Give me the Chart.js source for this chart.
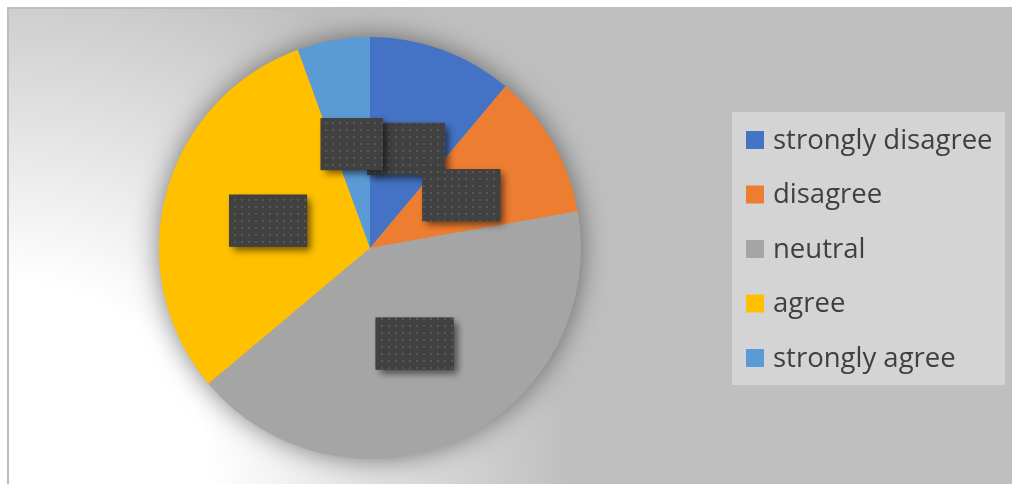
<!DOCTYPE html>
<html>
<head>
<meta charset="utf-8">
<script src="https://cdn.jsdelivr.net/npm/chart.js@4/dist/chart.umd.min.js"></script>
<style>
  html, body { margin: 0; padding: 0; background: #ffffff; }
  #wrap { width: 1012px; height: 484px; }
</style>
</head>
<body>
<div id="wrap"><canvas id="myChart" width="1012" height="484"></canvas></div>
<script>
let labels = ['strongly disagree', 'disagree', 'neutral', 'agree', 'strongly agree'];
let counts = [4, 4, 15, 11, 2];
let colors = ['#4472C4', '#ED7D31', '#A5A5A5', '#FFC000', '#5B9BD5'];

// background: grey frame with a white glow from the bottom-left corner
const backgroundPlugin = {
    id: 'background',
    beforeDraw(chart) {
        const ctx = chart.ctx;
        const w = chart.width, h = chart.height;
        ctx.save();
        const g = ctx.createRadialGradient(8, h, 0, 8, h, 560);
        g.addColorStop(0, '#ffffff');
        g.addColorStop(0.36, '#ffffff');
        g.addColorStop(1, '#bfbfbf');
        ctx.fillStyle = g;
        ctx.fillRect(9, 9, w - 9, h - 9);
        ctx.strokeStyle = '#bdbdbd';
        ctx.lineWidth = 2;
        ctx.beginPath();
        ctx.moveTo(8, h);
        ctx.lineTo(8, 8);
        ctx.lineTo(w, 8);
        ctx.stroke();
        ctx.restore();
    }
};

// soft shadow behind the whole pie
const pieShadow = {
    id: 'pieShadow',
    beforeDatasetsDraw(chart) {
        const arc = chart.getDatasetMeta(0).data[0];
        if (!arc) return;
        const ctx = chart.ctx;
        ctx.save();
        ctx.shadowColor = 'rgba(0,0,0,0.5)';
        ctx.shadowBlur = 28;
        ctx.fillStyle = '#a5a5a5';
        ctx.beginPath();
        ctx.arc(arc.x, arc.y, arc.outerRadius - 1, 0, Math.PI * 2);
        ctx.fill();
        ctx.restore();
    }
};

// dark label boxes (the data labels are covered in the original)
function dotPattern(ctx) {
    const c = document.createElement('canvas');
    c.width = 7; c.height = 7;
    const p = c.getContext('2d');
    p.fillStyle = '#414141';
    p.fillRect(0, 0, 7, 7);
    p.fillStyle = '#575757';
    p.fillRect(3, 3, 2, 2);
    return ctx.createPattern(c, 'repeat');
}

const labelBoxes = {
    id: 'labelBoxes',
    afterDatasetsDraw(chart) {
        const ctx = chart.ctx;
        const data = chart.data.datasets[0].data;
        const total = data.reduce((a, b) => a + b, 0);
        const pattern = dotPattern(ctx);
        ctx.save();
        ctx.font = '28px "Open Sans"';
        chart.getDatasetMeta(0).data.forEach((arc, i) => {
            const pos = arc.tooltipPosition();
            const txt = Math.round(data[i] / total * 100) + '%';
            const bw = Math.round(ctx.measureText(txt).width) + 23;
            const bh = 52;
            ctx.save();
            ctx.shadowColor = 'rgba(0,0,0,0.55)';
            ctx.shadowBlur = 7;
            ctx.shadowOffsetX = 4;
            ctx.shadowOffsetY = 4;
            ctx.fillStyle = '#414141';
            ctx.fillRect(pos.x - bw / 2, pos.y - bh / 2, bw, bh);
            ctx.restore();
            ctx.fillStyle = pattern;
            ctx.fillRect(pos.x - bw / 2, pos.y - bh / 2, bw, bh);
        });
        ctx.restore();
    }
};

// legend box on the right
const legendBox = {
    id: 'legendBox',
    afterDraw(chart) {
        const ctx = chart.ctx;
        const ds = chart.data.datasets[0];
        ctx.save();
        ctx.fillStyle = '#d4d4d4';
        ctx.fillRect(732, 112, 273, 273);
        ctx.font = '27.5px "Open Sans"';
        ctx.textBaseline = 'middle';
        chart.data.labels.forEach((lab, i) => {
            const y = 140 + i * 54.5;
            ctx.fillStyle = ds.backgroundColor[i];
            ctx.fillRect(746, y - 9, 18, 18);
            ctx.fillStyle = '#404040';
            ctx.fillText(lab, 773, y + 1);
        });
        ctx.restore();
    }
};

let myChart = document.getElementById("myChart").getContext('2d');

let chart = new Chart(myChart, {
    type: 'pie',
    data: {
        labels: labels,
        datasets: [{
            data: counts,
            backgroundColor: colors,
            borderWidth: 0,
            hoverOffset: 0
        }]
    },
    options: {
        responsive: false,
        animation: false,
        events: [],
        layout: {
            padding: { top: 37, bottom: 25, left: 159, right: 431 }
        },
        plugins: {
            legend: { display: false },
            tooltip: { enabled: false }
        }
    },
    plugins: [backgroundPlugin, pieShadow, labelBoxes, legendBox]
});
</script>
</body>
</html>
